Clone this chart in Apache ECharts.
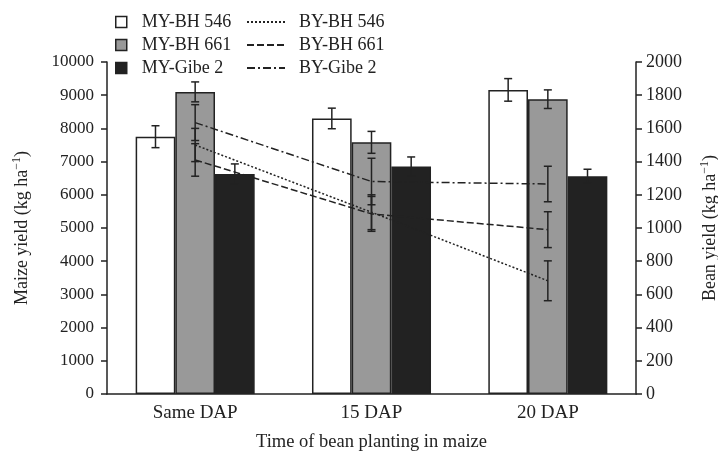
<!DOCTYPE html>
<html>
<head>
<meta charset="utf-8">
<script src="https://cdn.jsdelivr.net/npm/echarts@6/dist/echarts.min.js"></script>
<style>html,body{margin:0;padding:0;background:#fff}#c{width:718px;height:454px}</style>
</head>
<body>
<div id="c"></div>
<script>
var categories = ['Same DAP', '15 DAP', '20 DAP'];
var myBH546 = [7750, 8300, 9160];
var myBH546Err = [330, 310, 340];
var myBH661 = [9100, 7580, 8880];
var myBH661Err = [300, 330, 280];
var myGibe2 = [6630, 6850, 6560];
var myGibe2Err = [300, 290, 210];
var byBH546 = [1500, 1095, 682];
var byBH546Err = [100, 105, 120];
var byBH661 = [1410, 1085, 990];
var byBH661Err = [98, 105, 108];
var byGibe2 = [1635, 1280, 1265];
var byGibe2Err = [108, 140, 107];
var leftTicks = [0, 10000, 1000];
var rightTicks = [0, 2000, 200];

var FONT = '"Liberation Serif", "Times New Roman", serif';
var INK = '#222';
var BAR_W = 0.225;

function errData(vals, errs) {
  return vals.map(function (v, i) { return [i, v - errs[i], v + errs[i]]; });
}
function errSeries(name, vals, errs, axisIdx, offsetIdx) {
  return {
    type: 'custom', name: name, yAxisIndex: axisIdx, z: 10, silent: true,
    data: errData(vals, errs),
    encode: { x: 0, y: [1, 2] },
    renderItem: function (params, api) {
      var band = api.size([1, 0])[0];
      var dx = offsetIdx * band * BAR_W;
      var lo = api.coord([api.value(0), api.value(1)]);
      var hi = api.coord([api.value(0), api.value(2)]);
      var x = lo[0] + dx, c = 4;
      var st = { stroke: INK, lineWidth: 1.5 };
      return { type: 'group', children: [
        { type: 'line', shape: { x1: x, y1: lo[1], x2: x, y2: hi[1] }, style: st },
        { type: 'line', shape: { x1: x - c, y1: lo[1], x2: x + c, y2: lo[1] }, style: st },
        { type: 'line', shape: { x1: x - c, y1: hi[1], x2: x + c, y2: hi[1] }, style: st }
      ] };
    }
  };
}
function barSeries(name, vals, color) {
  return { type: 'bar', name: name, data: vals, yAxisIndex: 0, barWidth: (BAR_W * 100) + '%', barGap: '0%',
    itemStyle: { color: color, borderColor: INK, borderWidth: 1.5 } };
}
function lineSeries(name, vals, dash) {
  return { type: 'line', name: name, data: vals, yAxisIndex: 1, symbol: 'none', z: 5,
    itemStyle: { color: INK },
    lineStyle: { color: INK, width: 1.5, type: dash } };
}
var nameRich = {
  n: { fontFamily: FONT, fontSize: 18, color: INK, lineHeight: 22 },
  s: { fontFamily: FONT, fontSize: 12, color: INK, verticalAlign: 'top', lineHeight: 22, padding: [0, 0, 8, 0] }
};
var legendText = { fontFamily: FONT, fontSize: 18, color: INK, padding: [0, 0, 0, 10] };
function plain(v) { return String(v); }

var chart = echarts.init(document.getElementById('c'));
chart.setOption({
  animation: false,
  backgroundColor: '#fff',
  grid: { left: 107, right: 82, top: 62, bottom: 60, containLabel: false, outerBoundsMode: 'none' },
  legend: [
    { orient: 'vertical', left: 110, top: 8, itemWidth: 11, itemHeight: 11, itemGap: 5, icon: 'rect',
      textStyle: legendText,
      data: [
        { name: 'MY-BH 546', itemStyle: { color: '#fff', borderColor: INK, borderWidth: 1.5 } },
        { name: 'MY-BH 661', itemStyle: { color: '#999', borderColor: INK, borderWidth: 1.5 } },
        { name: 'MY-Gibe 2', itemStyle: { color: INK, borderColor: INK, borderWidth: 1.5 } }
      ] },
    { orient: 'vertical', left: 241, top: 8, itemWidth: 38, itemHeight: 11, itemGap: 5,
      itemStyle: { opacity: 0 },
      textStyle: { fontFamily: FONT, fontSize: 18, color: INK, padding: [0, 0, 0, 9] },
      data: ['BY-BH 546', 'BY-BH 661', 'BY-Gibe 2'] }
  ],
  xAxis: {
    type: 'category', data: categories,
    axisLine: { lineStyle: { color: INK, width: 1.5 } },
    axisTick: { length: 8, lineStyle: { color: INK, width: 1.5 } },
    axisLabel: { fontFamily: FONT, fontSize: 19, color: INK, margin: 10 },
    name: 'Time of bean planting in maize', nameLocation: 'middle', nameGap: 39,
    nameTextStyle: { fontFamily: FONT, fontSize: 18.5, color: INK }
  },
  yAxis: [
    { type: 'value', min: leftTicks[0], max: leftTicks[1], interval: leftTicks[2], position: 'left',
      splitLine: { show: false },
      axisLine: { show: true, lineStyle: { color: INK, width: 1.5 } },
      axisTick: { show: true, length: 6, lineStyle: { color: INK, width: 1.5 } },
      axisLabel: { fontFamily: FONT, fontSize: 17, color: INK, margin: 13, formatter: plain },
      name: '{n|Maize yield (kg ha}{s|\u22121}{n|)}', nameLocation: 'middle', nameGap: 74, nameRotate: 90,
      nameTextStyle: { rich: nameRich } },
    { type: 'value', min: rightTicks[0], max: rightTicks[1], interval: rightTicks[2], position: 'right',
      splitLine: { show: false },
      axisLine: { show: true, lineStyle: { color: INK, width: 1.5 } },
      axisTick: { show: true, length: 6, lineStyle: { color: INK, width: 1.5 } },
      axisLabel: { fontFamily: FONT, fontSize: 18, color: INK, margin: 10, formatter: plain },
      name: '{n|Bean yield (kg ha}{s|\u22121}{n|)}', nameLocation: 'middle', nameGap: 63, nameRotate: 90,
      nameTextStyle: { rich: nameRich } }
  ],
  series: [
    barSeries('MY-BH 546', myBH546, '#fff'),
    barSeries('MY-BH 661', myBH661, '#999'),
    barSeries('MY-Gibe 2', myGibe2, INK),
    lineSeries('BY-BH 546', byBH546, [2, 2]),
    lineSeries('BY-BH 661', byBH661, [7, 3]),
    lineSeries('BY-Gibe 2', byGibe2, [8, 3, 2, 3]),
    errSeries('e1', myBH546, myBH546Err, 0, -1),
    errSeries('e2', myBH661, myBH661Err, 0, 0),
    errSeries('e3', myGibe2, myGibe2Err, 0, 1),
    errSeries('e4', byBH546, byBH546Err, 1, 0),
    errSeries('e5', byBH661, byBH661Err, 1, 0),
    errSeries('e6', byGibe2, byGibe2Err, 1, 0)
  ]
});
</script>
</body>
</html>
